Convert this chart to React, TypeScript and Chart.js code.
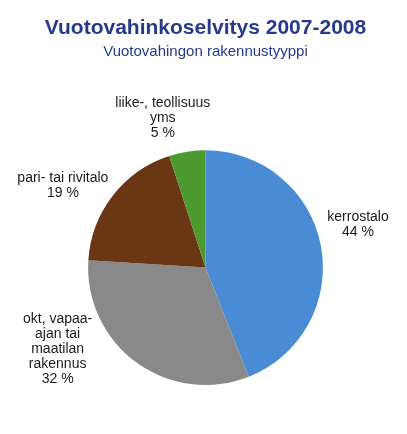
import { useEffect, useRef } from "react"
import { Chart, type ChartConfiguration, type Plugin, registerables } from "chart.js"

Chart.register(...registerables)

const titleText = "Vuotovahinkoselvitys 2007-2008"
const subtitleText = "Vuotovahingon rakennustyyppi"

// clockwise from 12 o'clock
const categories = [
  ["kerrostalo"],
  ["okt, vapaa-", "ajan tai", "maatilan", "rakennus"],
  ["pari- tai rivitalo"],
  ["liike-, teollisuus", "yms"],
]
const shares = [44, 32, 19, 5]
const sliceColors = ["#4a8bd5", "#898989", "#6b3613", "#4d9a30"]

const FONT = "'Liberation Sans', Arial, sans-serif"

// label placement around the pie: angle nudge (deg) from slice middle, distance in radii
const labelSpots = [
  { turn: -5, reach: 1.35 },
  { turn: 25, reach: 1.44 },
  { turn: -8, reach: 1.4 },
  { turn: -7, reach: 1.32 },
]

const outsideLabels: Plugin<"pie"> = {
  id: "outsideLabels",
  afterDatasetsDraw(chart) {
    const { ctx } = chart
    const meta = chart.getDatasetMeta(0)
    const lineH = 15
    ctx.save()
    ctx.font = `14px ${FONT}`
    ctx.fillStyle = "#1a1a1a"
    ctx.textAlign = "center"
    ctx.textBaseline = "middle"
    meta.data.forEach((el, i) => {
      const { x, y, startAngle, endAngle, outerRadius } = el.getProps(
        ["x", "y", "startAngle", "endAngle", "outerRadius"],
        true,
      ) as any
      const spot = labelSpots[i]
      const a = (startAngle + endAngle) / 2 + (spot.turn * Math.PI) / 180
      const cx = x + Math.cos(a) * outerRadius * spot.reach
      const cy = y + Math.sin(a) * outerRadius * spot.reach
      const lines = [...categories[i], `${shares[i]} %`]
      const top = cy - ((lines.length - 1) * lineH) / 2
      lines.forEach((line, j) => ctx.fillText(line, cx, top + j * lineH))
    })
    ctx.restore()
  },
}

export default function App() {
  const chartRef = useRef<HTMLCanvasElement>(null)
  const chartInstance = useRef<Chart | null>(null)

  useEffect(() => {
    if (!chartRef.current) return
    if (chartInstance.current) chartInstance.current.destroy()

    const config: ChartConfiguration<"pie"> = {
      type: "pie",
      data: {
        labels: categories,
        datasets: [
          {
            data: shares,
            backgroundColor: sliceColors,
            borderWidth: 0,
          },
        ],
      },
      options: {
        animation: false,
        responsive: true,
        maintainAspectRatio: false,
        layout: { padding: { top: 0, left: 4, right: 0, bottom: 49 } },
        plugins: {
          legend: { display: false },
          tooltip: { enabled: false },
          title: {
            display: true,
            text: titleText,
            color: "#27398c",
            font: { family: FONT, size: 21, weight: "bold", lineHeight: 1.2 },
            padding: { top: 16, bottom: 0 },
          },
          subtitle: {
            display: true,
            text: subtitleText,
            color: "#27398c",
            font: { family: FONT, size: 15, lineHeight: 1.2 },
            padding: { top: 2, bottom: 89 },
          },
        },
      },
      plugins: [outsideLabels],
    }

    chartInstance.current = new Chart(chartRef.current, config)

    return () => {
      if (chartInstance.current) {
        chartInstance.current.destroy()
        chartInstance.current = null
      }
    }
  }, [])

  return (
    <div style={{ position: "absolute", left: 0, top: 0, width: 407, height: 434, background: "#fff" }}>
      <canvas ref={chartRef} />
    </div>
  )
}
